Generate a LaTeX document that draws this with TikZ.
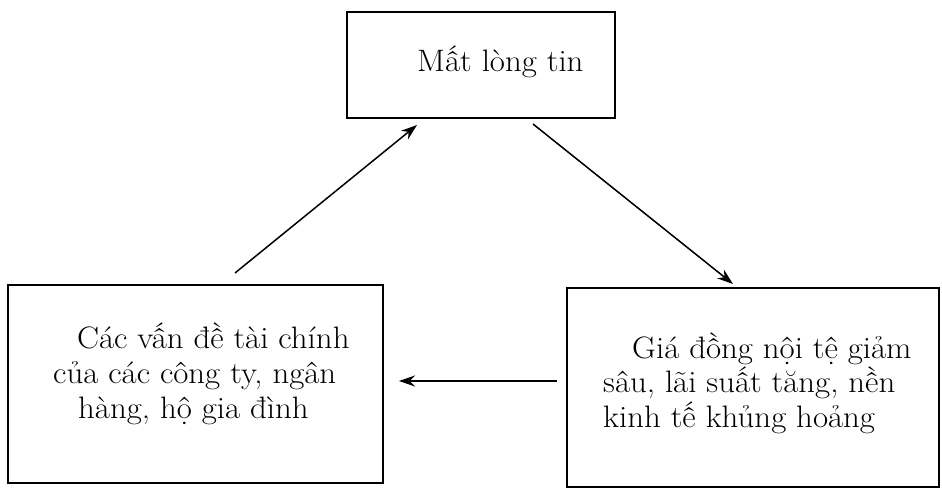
\documentclass[tikz,border=0pt]{standalone}
\usepackage{fontspec}
\setmainfont{Latin Modern Roman}[FakeStretch=1.06]
\usetikzlibrary{arrows.meta}
\begin{document}
\begin{tikzpicture}[x=1pt,y=-1pt,
  boxst/.style={draw,line width=2.4pt,inner sep=0pt,minimum width=#1},
  txt/.style={anchor=base west,inner sep=0pt,font=\fontsize{31}{36}\selectfont},
  arr/.style={line width=1.5pt,-{Stealth[length=16pt,width=11pt]}}]
\useasboundingbox (0,0) rectangle (942,489);
\fill[white] (0,0) rectangle (942,489);
% boxes
\node[boxst=268pt,minimum height=106pt] (top) at (481,65) {};
\node[boxst=375pt,minimum height=198pt] (left) at (195.5,384) {};
\node[boxst=372pt,minimum height=199pt] (right) at (753,387.5) {};
% texts
\node[txt] (t1) at (417,72) {Mất lòng tin};
\node[txt] (l1) at (77,348) {Các vấn đề tài chính};
\node[txt] (l2) at (53,383) {của các công ty, ngân};
\node[txt] (l3) at (78,418) {hàng, hộ gia đình};
\node[txt] (r1) at (632,358) {Giá đồng nội tệ giảm};
\node[txt] (r2) at (603,392) {sâu, lãi suất tăng, nền};
\node[txt] (r3) at (603,427) {kinh tế khủng hoảng};
% connector ends
\coordinate (a1s) at (235,273);
\coordinate (a1e) at (417,125);
\coordinate (a2s) at (533,124);
\coordinate (a2e) at (733,284);
\coordinate (a3s) at (557,381);
\coordinate (a3e) at (399,381);
\draw[arr] (a1s) -- (a1e);
\draw[arr] (a2s) -- (a2e);
\draw[arr] (a3s) -- (a3e);
\end{tikzpicture}
\end{document}
